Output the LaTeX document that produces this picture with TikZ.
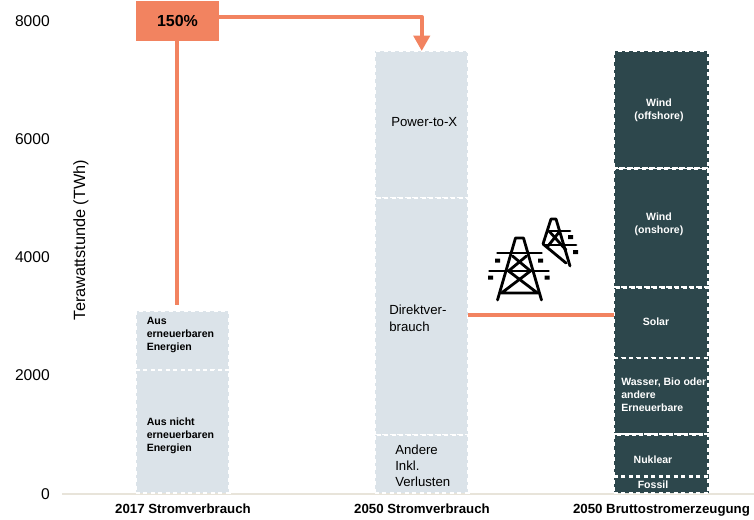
\documentclass[tikz,border=0pt]{standalone}
\usepackage{fontspec}
\setmainfont{Liberation Sans}
\usetikzlibrary{arrows.meta}
\definecolor{lightbar}{HTML}{DBE3E9}
\definecolor{darkbar}{HTML}{2D474C}
\definecolor{salmon}{HTML}{F28360}
\definecolor{axisline}{HTML}{E8E4DA}
\tikzset{
  seg/.style={draw=white,line width=1.8pt,dash pattern=on 3pt off 2.6pt,inner sep=0pt,outer sep=0pt,anchor=north west},
  lightseg/.style={seg,fill=lightbar,minimum width=70.1pt},
  darkseg/.style={seg,fill=darkbar,minimum width=70.9pt},
  tick/.style={font=\fontsize{11.7}{13}\selectfont,text=black,anchor=east,inner sep=0pt},
  reg/.style={font=\fontsize{9.9}{12.6}\selectfont,text=black,anchor=west,align=left,inner sep=0pt},
  sml/.style={font=\bfseries\fontsize{7.9}{9.8}\selectfont,inner sep=0pt,anchor=west,align=left},
  cat/.style={font=\bfseries\fontsize{9.95}{11}\selectfont,text=black,inner sep=0pt,anchor=base},
  conn/.style={draw=salmon,line width=3pt},
  twr/.style={draw=black,line width=2.1pt,line cap=round,line join=round},
}
\begin{document}
\begin{tikzpicture}[x=0.75pt,y=-0.75pt]
\useasboundingbox (0,0) rectangle (754,519);
% axis baseline
\coordinate (baseL) at (62,494);
\coordinate (baseR) at (754,494);
\draw[axisline,line width=1.2pt] (baseL) -- (baseR);
% ticks
\node[tick] (t8) at (50,21) {8000};
\node[tick] (t6) at (50,139) {6000};
\node[tick] (t4) at (50,257) {4000};
\node[tick] (t2) at (50,375) {2000};
\node[tick] (t0) at (50,494) {0};
\node[font=\fontsize{12.2}{14}\selectfont,rotate=90,inner sep=0pt] (ylab) at (81,240) {Terawattstunde (TWh)};
% bar 1
\node[lightseg,minimum height=44.25pt] (a1) at (136,311) {};
\node[lightseg,minimum height=92.25pt] (a2) at (136,370) {};
\node[sml] at (146.5,335) {Aus\\erneuerbaren\\Energien};
\node[sml] at (146.5,435.5) {Aus nicht\\erneuerbaren\\Energien};
% bar 2
\node[lightseg,minimum height=110.25pt] (b1) at (375,51) {};
\node[lightseg,minimum height=177.75pt] (b2) at (375,198) {};
\node[lightseg,minimum height=43.5pt] (b3) at (375,435) {};
\node[reg] at (391,122) {Power-to-X};
\node[reg] at (389,318.5) {Direktver-\\brauch};
\node[reg,font=\fontsize{9.9}{12}\selectfont] at (395,466) {Andere\\Inkl.\\Verlusten};
% bar 3
\node[darkseg,minimum height=88.1pt] (c1) at (614,51) {};
\node[darkseg,minimum height=89.25pt] (c2) at (614,168.5) {};
\node[darkseg,minimum height=52.9pt] (c3) at (614,287.5) {};
\node[darkseg,minimum height=57.4pt] (c4) at (614,358) {};
\node[darkseg,minimum height=31.5pt] (c5) at (614,434.5) {};
\node[darkseg,minimum height=12.4pt] (c6) at (614,476.5) {};
\node[sml,text=white,anchor=center,align=center] at (659,110) {Wind\\(offshore)};
\node[sml,text=white,anchor=center,align=center] at (659,224.5) {Wind\\(onshore)};
\node[sml,text=white,anchor=center] at (656,322) {Solar};
\node[sml,text=white] at (621,395) {Wasser, Bio oder\\andere\\Erneuerbare};
\node[sml,text=white,anchor=center] at (653,460) {Nuklear};
\node[sml,text=white,anchor=center] at (653,485) {Fossil};
% category labels
\node[cat] (k1) at (183,513) {2017 Stromverbrauch};
\node[cat] (k2) at (422,513) {2050 Stromverbrauch};
\node[cat] (k3) at (661.5,513) {2050 Bruttostromerzeugung};
% connectors
\node[fill=salmon,minimum width=62pt,minimum height=29.5pt,inner sep=0pt,font=\bfseries\fontsize{12}{14}\selectfont,text=black] (pct) at (177.5,21) {150\%};
\coordinate (pctfoot) at (177,305);
\draw[conn] (pct.south -| pctfoot) -- (pctfoot);
\coordinate (elbow) at (b1.north |- 0,17);
\draw[conn,line join=round,-{Triangle[length=11.5pt,width=12pt]}] (pct.east |- elbow) -- (elbow) -- (b1.north);
\draw[conn] (b2.east |- 0,315) -- (c3.west |- 0,315);
% large tower
\begin{scope}[shift={(519.5,270)}]
\draw[twr] (-22,30) -- (-4,-32) -- (4,-32) -- (22,30);
\draw[twr] (-19,23) -- (19,23) (-18,23) -- (11,1) (18,23) -- (-11,1);
\draw[twr] (-11,1) -- (7,-14) (11,1) -- (-7,-14);
\draw[twr] (-30,1) -- (29,1) (-22,-17) -- (22,-17);
\fill (-31.5,5.5) rectangle (-26.5,9.5) (25,5.5) rectangle (30,9.5);
\fill (-24.5,-11.5) rectangle (-19.5,-7.5) (18.5,-11.5) rectangle (23.5,-7.5);
\end{scope}
% small tower
\draw[twr] (543,244) -- (551,219) -- (556,219) -- (570,266) (543,244) -- (566,263);
\draw[twr] (549,231) -- (570,231) (545,245) -- (576,245);
\draw[twr] (549,231) -- (566,250) (560,231) -- (548,246);
\fill (568,235) rectangle (573,239) (573,250) rectangle (578,254);
\end{tikzpicture}
\end{document}
